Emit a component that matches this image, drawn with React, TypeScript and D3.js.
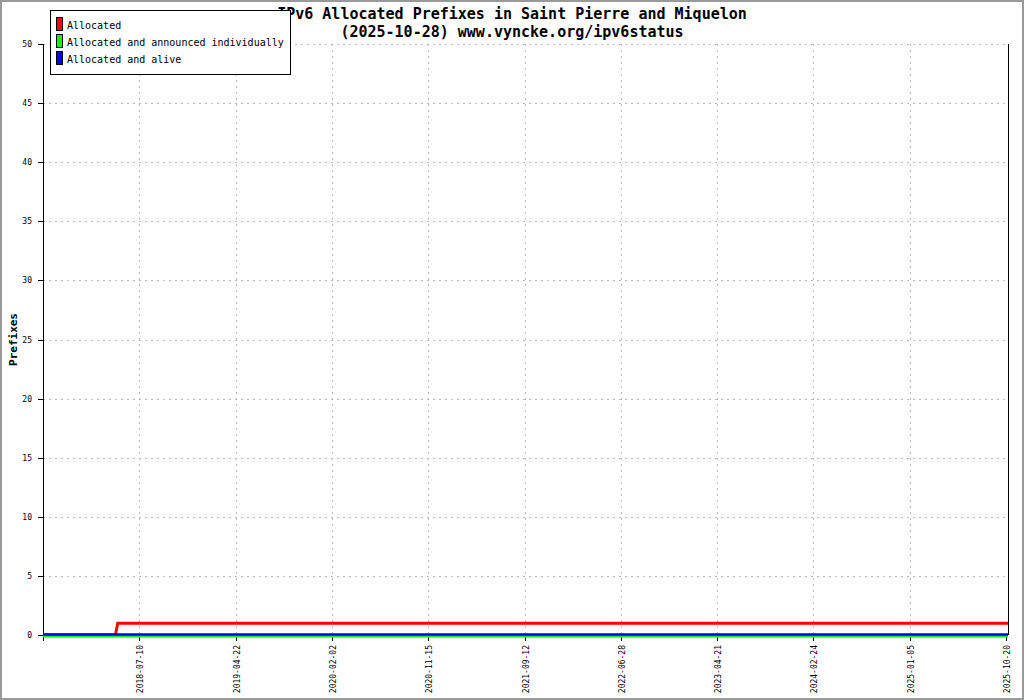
import * as d3 from "d3";

// tick labels along the time axis (the axis is spaced by sample, so ticks sit at even steps)
const tickDates = ["2018-07-10", "2019-04-22", "2020-02-02", "2020-11-15", "2021-09-12",
    "2022-06-28", "2023-04-21", "2024-02-24", "2025-01-05", "2025-10-20"];
const firstDate = "2017-09-27";
const lastDate = "2025-10-26";

const yTicks = [0, 5, 10, 15, 20, 25, 30, 35, 40, 45, 50];

// series
const allocatedDates = ["2017-09-27", "2018-04-30", "2018-05-07", "2025-10-26"];
const allocatedValues = [0, 0, 1, 1];
const announcedDates = ["2017-09-27", "2025-10-26"];
const announcedValues = [0, 0];
const aliveDates = ["2017-09-27", "2025-10-26"];
const aliveValues = [0, 0];

const legendNames = ["Allocated", "Allocated and announced individually", "Allocated and alive"];
const legendColors = ["#ff0000", "#00ff00", "#0000ff"];

const width = 1024;
const height = 700;
const margin = {top: 44, right: 16, bottom: 65, left: 43};
const mono = "'DejaVu Sans Mono', 'Liberation Mono', monospace";

export default function App() {
    const parse = d3.utcParse("%Y-%m-%d");
    const left = margin.left;
    const right = width - margin.right;
    const step = (1006 - left) / tickDates.length;

    const domainDates = [firstDate, ...tickDates, lastDate].map(d => parse(d) as Date);
    const rangeX = [...d3.range(tickDates.length + 1).map(i => left + i * step), right];
    const x = d3.scaleUtc().domain(domainDates).range(rangeX);
    const y = d3.scaleLinear().domain([0, 50]).range([height - margin.bottom, margin.top]);

    const line = d3.line<[Date, number]>().x(d => x(d[0])).y(d => y(d[1]));
    const toPts = (ds: string[], vs: number[]) => ds.map((d, i) => [parse(d) as Date, vs[i]] as [Date, number]);

    const y0 = y(0);
    const top = y(50);

    return (
        <svg width={width} height={height} style={{position: "absolute", left: 0, top: 0, background: "#fff"}}>
            <rect x={1} y={1} width={width - 2} height={height - 2} fill="#fff" stroke="#999" strokeWidth={2}/>

            {/* grid */}
            {yTicks.filter(t => t > 0).map(t => (
                <line key={"gy" + t} x1={left} x2={right} y1={Math.round(y(t)) + 0.5} y2={Math.round(y(t)) + 0.5}
                      stroke="#bbb" strokeDasharray="2,4"/>
            ))}
            {tickDates.slice(0, -1).map(d => (
                <line key={"gx" + d} x1={Math.round(x(parse(d) as Date)) + 0.5} x2={Math.round(x(parse(d) as Date)) + 0.5}
                      y1={top} y2={y0} stroke="#bbb" strokeDasharray="2,4"/>
            ))}

            {/* axes */}
            <line x1={left + 0.5} x2={left + 0.5} y1={top} y2={y0 + 6} stroke="#000"/>
            <line x1={right + 0.5} x2={right + 0.5} y1={top} y2={y0} stroke="#000"/>
            <line x1={left} x2={right} y1={y0 + 0.5} y2={y0 + 0.5} stroke="#000"/>
            {yTicks.map(t => (
                <g key={"yt" + t}>
                    <line x1={left - 5} x2={left} y1={Math.round(y(t)) + 0.5} y2={Math.round(y(t)) + 0.5} stroke="#000"/>
                    <text x={left - 11} y={y(t) + 3} textAnchor="end" fontFamily={mono} fontSize={8}>{t}</text>
                </g>
            ))}
            {tickDates.map(d => {
                const px = Math.round(x(parse(d) as Date)) + 0.5;
                return (
                    <g key={"xt" + d}>
                        <line x1={px} x2={px} y1={y0} y2={y0 + 6} stroke="#000"/>
                        <text transform={`translate(${px + 3},${y0 + 10}) rotate(-90)`} textAnchor="end"
                              fontFamily={mono} fontSize={8}>{d}</text>
                    </g>
                );
            })}

            {/* series */}
            <path d={line(toPts(allocatedDates, allocatedValues)) ?? ""} fill="none" stroke={legendColors[0]} strokeWidth={3}/>
            <path d={line(toPts(announcedDates, announcedValues)) ?? ""} fill="none" stroke={legendColors[1]} strokeWidth={3}
                  transform="translate(0,1)"/>
            <path d={line(toPts(aliveDates, aliveValues)) ?? ""} fill="none" stroke={legendColors[2]} strokeWidth={2.5}
                  transform="translate(0,-0.5)"/>

            {/* y label */}
            <text transform={`translate(17,${(top + y0) / 2}) rotate(-90)`} textAnchor="middle" fontFamily={mono}
                  fontSize={11} fontWeight="bold">Prefixes</text>

            {/* title */}
            <text x={512} y={19} textAnchor="middle" fontFamily={mono} fontSize={15} fontWeight="bold">IPv6 Allocated Prefixes in Saint Pierre and Miquelon</text>
            <text x={512} y={37} textAnchor="middle" fontFamily={mono} fontSize={15} fontWeight="bold">(2025-10-28) www.vyncke.org/ipv6status</text>

            {/* legend */}
            <rect x={50.5} y={10.5} width={240} height={64} fill="#fff" stroke="#000"/>
            {legendNames.map((n, i) => (
                <g key={n} transform={`translate(0,${i * 17})`}>
                    <rect x={56.5} y={17.5} width={6} height={13} fill={legendColors[i]} stroke="#000"/>
                    <text x={67} y={29} fontFamily={mono} fontSize={10}>{n}</text>
                </g>
            ))}
        </svg>
    );
}
